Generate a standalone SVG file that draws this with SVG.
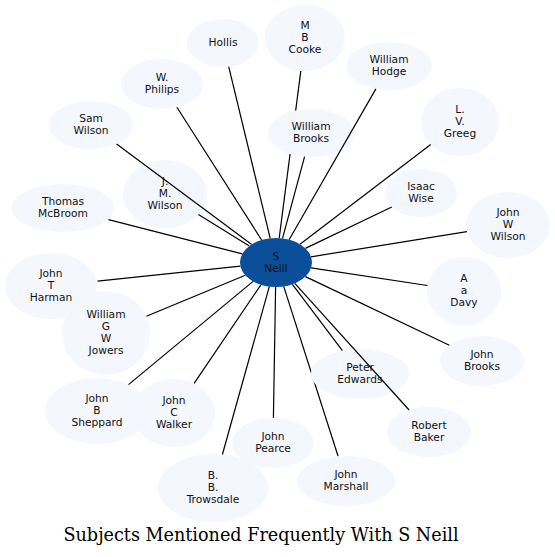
<svg xmlns="http://www.w3.org/2000/svg" width="555" height="557" viewBox="0 0 555 557">
<style>
.n ellipse{fill:#f4f8fe;stroke:none}
.c ellipse{fill:#0b4f9b;stroke:none}
text{font-family:"DejaVu Sans",sans-serif;font-size:10.67px;fill:#111;text-anchor:middle}
.e line{stroke:#000;stroke-width:1.2}
.title{font-family:"DejaVu Serif",serif;font-size:17.6px;fill:#000}
</style>
<rect width="555" height="557" fill="#fff"/>
<g class="e" id="edges-under">
<line x1="279.2" y1="238.1" x2="300.8" y2="70.8"/>
<line x1="283.7" y1="286.4" x2="338.1" y2="456.3"/>
</g>
<g id="n_hollis" class="n"><ellipse cx="223" cy="43" rx="36" ry="24"/><text x="223" y="45.5">Hollis</text></g>
<g id="n_cooke" class="n"><ellipse cx="305" cy="38" rx="40" ry="33"/><text x="305" y="28.5">M</text><text x="305" y="40.5">B</text><text x="305" y="52.5">Cooke</text></g>
<g id="n_hodge" class="n"><ellipse cx="389" cy="66" rx="43" ry="24"/><text x="389" y="62.5">William</text><text x="389" y="74.5">Hodge</text></g>
<g id="n_greeg" class="n"><ellipse cx="460" cy="122" rx="39" ry="34"/><text x="460" y="112.5">L.</text><text x="460" y="124.5">V.</text><text x="460" y="136.5">Greeg</text></g>
<g id="n_wbrooks" class="n"><ellipse cx="311" cy="133" rx="43" ry="24"/><text x="311" y="129.5">William</text><text x="311" y="141.5">Brooks</text></g>
<g id="n_wise" class="n"><ellipse cx="421" cy="193" rx="36" ry="24"/><text x="421" y="189.5">Isaac</text><text x="421" y="201.5">Wise</text></g>
<g id="n_jwwilson" class="n"><ellipse cx="508" cy="225" rx="42" ry="33"/><text x="508" y="215.5">John</text><text x="508" y="227.5">W</text><text x="508" y="239.5">Wilson</text></g>
<g id="n_davy" class="n"><ellipse cx="464" cy="291" rx="37" ry="34"/><text x="464" y="281.5">A</text><text x="464" y="293.5">a</text><text x="464" y="305.5">Davy</text></g>
<g id="n_jbrooks" class="n"><ellipse cx="482" cy="361" rx="42" ry="25"/><text x="482" y="357.5">John</text><text x="482" y="369.5">Brooks</text></g>
<g id="n_baker" class="n"><ellipse cx="429" cy="432" rx="42" ry="25"/><text x="429" y="428.5">Robert</text><text x="429" y="440.5">Baker</text></g>
<g id="n_edwards" class="n"><ellipse cx="360" cy="374" rx="49" ry="25"/><text x="360" y="370.5">Peter</text><text x="360" y="382.5">Edwards</text></g>
<g id="n_marshall" class="n"><ellipse cx="346" cy="481" rx="49" ry="25"/><text x="346" y="477.5">John</text><text x="346" y="489.5">Marshall</text></g>
<g id="n_pearce" class="n"><ellipse cx="273" cy="443" rx="41" ry="25"/><text x="273" y="439.5">John</text><text x="273" y="451.5">Pearce</text></g>
<g id="n_trowsdale" class="n"><ellipse cx="213" cy="488" rx="55" ry="34"/><text x="213" y="478.5">B.</text><text x="213" y="490.5">B.</text><text x="213" y="502.5">Trowsdale</text></g>
<g id="n_sheppard" class="n"><ellipse cx="97" cy="411" rx="52" ry="33"/><text x="97" y="401.5">John</text><text x="97" y="413.5">B</text><text x="97" y="425.5">Sheppard</text></g>
<g id="n_walker" class="n"><ellipse cx="174" cy="413" rx="41" ry="34"/><text x="174" y="403.5">John</text><text x="174" y="415.5">C</text><text x="174" y="427.5">Walker</text></g>
<g id="n_harman" class="n"><ellipse cx="51" cy="286" rx="46" ry="33"/><text x="51" y="276.5">John</text><text x="51" y="288.5">T</text><text x="51" y="300.5">Harman</text></g>
<g id="n_jowers" class="n"><ellipse cx="106" cy="333" rx="44" ry="42"/><text x="106" y="317.5">William</text><text x="106" y="329.5">G</text><text x="106" y="341.5">W</text><text x="106" y="353.5">Jowers</text></g>
<g id="n_mcbroom" class="n"><ellipse cx="63" cy="208" rx="51" ry="24"/><text x="63" y="204.5">Thomas</text><text x="63" y="216.5">McBroom</text></g>
<g id="n_jmwilson" class="n"><ellipse cx="165" cy="194" rx="42" ry="34"/><text x="165" y="184.5">J.</text><text x="165" y="196.5">M.</text><text x="165" y="208.5">Wilson</text></g>
<g id="n_samwilson" class="n"><ellipse cx="91" cy="125" rx="42" ry="24"/><text x="91" y="121.5">Sam</text><text x="91" y="133.5">Wilson</text></g>
<g id="n_philips" class="n"><ellipse cx="162" cy="84" rx="41" ry="25"/><text x="162" y="80.5">W.</text><text x="162" y="92.5">Philips</text></g>
<g class="e" id="edges">
<line x1="270.2" y1="238.3" x2="228.7" y2="66.7"/>
<line x1="289.1" y1="239.7" x2="375.9" y2="88.9"/>
<line x1="300" y1="244.2" x2="430.7" y2="144.4"/>
<line x1="282.5" y1="238.4" x2="304.6" y2="156.7"/>
<line x1="305.4" y1="248.4" x2="391.8" y2="207"/>
<line x1="311" y1="256.8" x2="466.9" y2="231.6"/>
<line x1="311.1" y1="267.8" x2="427.5" y2="285.5"/>
<line x1="305.5" y1="276.6" x2="449.3" y2="345.3"/>
<line x1="294.8" y1="283.4" x2="409.1" y2="410"/>
<line x1="292.4" y1="284.3" x2="342.4" y2="350.7"/>
<line x1="275.6" y1="287" x2="273.4" y2="418"/>
<line x1="269.3" y1="286.6" x2="222.4" y2="454.5"/>
<line x1="260.9" y1="284.8" x2="194.1" y2="383.4"/>
<line x1="253.1" y1="281.4" x2="128.5" y2="384.6"/>
<line x1="245.3" y1="275.3" x2="146.4" y2="316.3"/>
<line x1="240.4" y1="266.2" x2="97.5" y2="281.1"/>
<line x1="242.3" y1="253.9" x2="108.5" y2="219.7"/>
<line x1="249.3" y1="246" x2="198.4" y2="214.6"/>
<line x1="251.7" y1="244.4" x2="116.6" y2="144"/>
<line x1="261.6" y1="240" x2="176.9" y2="107.3"/>
</g>
<g id="n_sneill" class="c"><ellipse cx="276" cy="262.5" rx="36" ry="24.5"/><text x="276" y="260">S</text><text x="276" y="272">Neill</text></g>
<text class="title" x="261" y="541">Subjects Mentioned Frequently With S Neill</text>
</svg>
